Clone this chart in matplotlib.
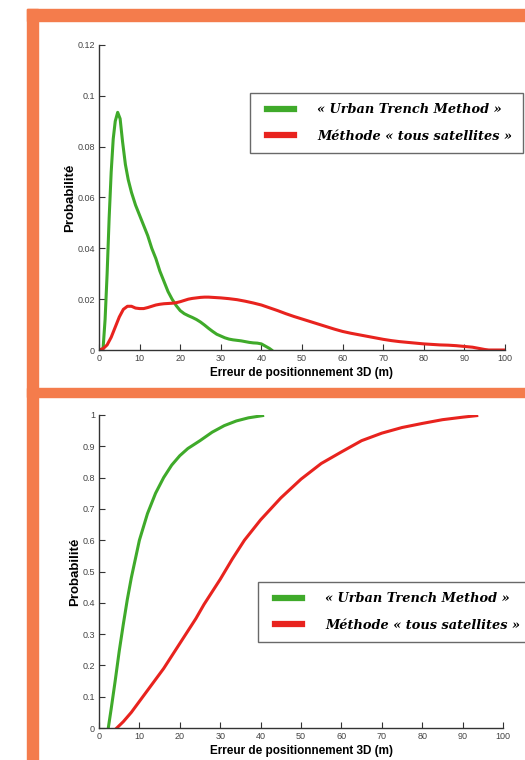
import matplotlib
matplotlib.use("Agg")
import matplotlib.pyplot as plt
from matplotlib.patches import Rectangle
from matplotlib.legend_handler import HandlerLine2D

# densite de probabilite de l'erreur 3D
pdf_x_utm = [0, 1, 1.5, 2, 2.5, 3, 3.5, 4, 4.6, 5.2, 5.8, 6.5, 7.2, 8, 9, 10, 11, 12, 13, 14, 15, 16,
             17, 18, 19, 20, 21, 22, 23, 24, 25, 26, 27, 28, 29, 30, 31, 32, 33, 34, 35, 36, 37, 38,
             39, 40, 41, 42, 42.5]
pdf_utm = [0, 0.0005, 0.012, 0.03, 0.052, 0.07, 0.083, 0.09, 0.0935, 0.091, 0.082, 0.073, 0.067,
           0.062, 0.057, 0.053, 0.049, 0.045, 0.04, 0.036, 0.031, 0.027, 0.023, 0.02, 0.0175, 0.0155,
           0.0143, 0.0135, 0.0128, 0.012, 0.011, 0.0098, 0.0085, 0.0073, 0.0062, 0.0055, 0.0048,
           0.0043, 0.004, 0.0038, 0.0036, 0.0033, 0.003, 0.0028, 0.0027, 0.0024, 0.0015, 0.0006, 0]

pdf_x_all = [0, 1, 2, 3, 4, 5, 6, 7, 8, 9, 10, 11, 12, 13, 14, 15, 16, 17, 18, 19, 20, 21, 22, 23,
             24, 25, 26, 27, 28, 29, 30, 32, 34, 36, 38, 40, 42, 44, 46, 48, 50, 52, 54, 56, 58, 60,
             62, 64, 66, 68, 70, 72, 74, 76, 78, 80, 82, 84, 86, 88, 90, 92, 94, 95, 96, 100]
pdf_all = [0, 0.0005, 0.002, 0.005, 0.009, 0.013, 0.016, 0.0172, 0.0172, 0.0165, 0.0163, 0.0163,
           0.0167, 0.0172, 0.0177, 0.018, 0.0182, 0.0183, 0.0184, 0.0186, 0.019, 0.0195, 0.02,
           0.0203, 0.0205, 0.0207, 0.0208, 0.0208, 0.0207, 0.0206, 0.0205, 0.0202, 0.0198, 0.0192,
           0.0185, 0.0177, 0.0166, 0.0155, 0.0143, 0.0132, 0.0122, 0.0112, 0.0102, 0.0092, 0.0082,
           0.0073, 0.0066, 0.006, 0.0054, 0.0048, 0.0042, 0.0037, 0.0033, 0.003, 0.0027, 0.0024,
           0.0022, 0.002, 0.0019, 0.0017, 0.0014, 0.0011, 0.0005, 0.0002, 0, 0]

# fonction de repartition
cdf_x_utm = [2.3, 3, 4, 5, 6, 7, 8, 9, 10, 12, 14, 16, 18, 20, 22, 25, 28, 31, 34, 37, 40.5]
cdf_utm = [0, 0.06, 0.15, 0.245, 0.33, 0.41, 0.48, 0.54, 0.6, 0.685, 0.75, 0.8, 0.84, 0.87, 0.893,
           0.918, 0.945, 0.966, 0.981, 0.991, 0.998]

cdf_x_all = [4.4, 6, 8, 10, 12, 14, 16, 18, 20, 22, 24, 26, 28, 30, 33, 36, 40, 45, 50, 55, 60, 65,
             70, 75, 80, 85, 90, 93.5]
cdf_all = [0, 0.02, 0.05, 0.085, 0.12, 0.155, 0.19, 0.23, 0.27, 0.31, 0.35, 0.395, 0.435, 0.475,
           0.54, 0.6, 0.665, 0.735, 0.795, 0.845, 0.882, 0.918, 0.942, 0.96, 0.973, 0.985, 0.993,
           0.998]

labels = ["« Urban Trench Method »", "Méthode « tous satellites »"]
green = "#3faa2a"
red = "#e8231e"
orange = "#f47c4c"

W, H = 525, 760
fig = plt.figure(figsize=(W / 100, H / 100), dpi=100)

# cadre orange
def px_rect(x0, y0, x1, y1):
    fig.patches.append(Rectangle((x0 / W, 1 - y1 / H), (x1 - x0) / W, (y1 - y0) / H,
                                 transform=fig.transFigure, color=orange, zorder=0))

px_rect(27, 9, 38, 760)
px_rect(27, 9, 525, 21)
px_rect(27, 388, 525, 397)

tick_font = ["Liberation Sans Narrow", "Liberation Sans"]
lab_font = ["Liberation Sans", "DejaVu Sans"]


def style(ax, xt, yt, ylabs):
    for s in ["top", "right"]:
        ax.spines[s].set_visible(False)
    for s in ["left", "bottom"]:
        ax.spines[s].set_color("#333333")
        ax.spines[s].set_linewidth(1.0)
    ax.set_xlim(0, 100)
    ax.set_xticks(xt)
    ax.set_yticks(yt)
    ax.set_yticklabels(ylabs)
    ax.tick_params(direction="in", length=4, width=0.8, colors="#333333", labelsize=6.5, pad=3)
    for t in ax.get_xticklabels() + ax.get_yticklabels():
        t.set_family(tick_font)
        t.set_color("#444444")
    ax.set_xlabel("Erreur de positionnement 3D (m)", family=lab_font, fontweight="bold",
                  fontsize=8.5, labelpad=3)
    ax.set_ylabel("Probabilité", family=lab_font, fontweight="bold", fontsize=9.5, labelpad=1)


xt = list(range(0, 101, 10))

# haut : densite
ax1 = fig.add_axes([99 / W, 1 - 350 / H, 406 / W, 305 / H])
ax1.plot(pdf_x_utm, pdf_utm, color=green, lw=2.2, label=labels[0])
ax1.plot(pdf_x_all, pdf_all, color=red, lw=2.2, label=labels[1])
ax1.set_ylim(0, 0.12)
style(ax1, xt, [0, 0.02, 0.04, 0.06, 0.08, 0.1, 0.12], ["0", "0.02", "0.04", "0.06", "0.08", "0.1", "0.12"])

# bas : repartition
ax2 = fig.add_axes([99 / W, 1 - 728 / H, 404 / W, 313 / H])
ax2.plot(cdf_x_utm, cdf_utm, color=green, lw=2.2, label=labels[0])
ax2.plot(cdf_x_all, cdf_all, color=red, lw=2.2, label=labels[1])
ax2.set_ylim(0, 1)
yt2 = [i / 10 for i in range(11)]
style(ax2, xt, yt2, ["0"] + ["0.%d" % i for i in range(1, 10)] + ["1"])

fs = 9.3
for ax, (lx, ly) in [(ax1, (250, 93)), (ax2, (258, 582))]:
    leg = ax.legend(loc="upper left", bbox_to_anchor=(lx / W, 1 - ly / H),
                    bbox_transform=fig.transFigure, frameon=True, fancybox=False,
                    prop={"family": "DejaVu Serif", "style": "italic", "weight": "bold", "size": fs},
                    handlelength=2.6, handletextpad=1.8, labelspacing=1.05, borderpad=0.8,
                    borderaxespad=0, handler_map={plt.Line2D: HandlerLine2D(xpad=0.5)})
    leg.get_frame().set_edgecolor("#444444")
    leg.get_frame().set_linewidth(1.0)
    for ln in leg.get_lines():
        ln.set_linewidth(4.5)

fig.savefig("out.png", dpi=100)
